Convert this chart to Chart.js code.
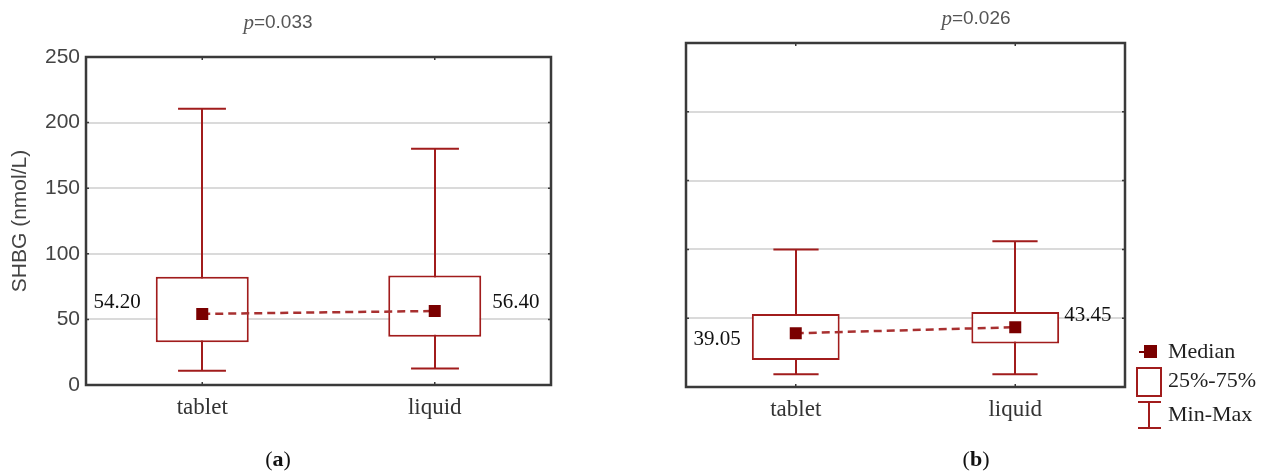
<!DOCTYPE html>
<html>
<head>
<meta charset="utf-8">
<script src="https://cdn.jsdelivr.net/npm/chart.js@4.4.0/dist/chart.umd.min.js"></script>
<style>
body { margin: 0; background: #fff; width: 1271px; height: 473px; position: relative; overflow: hidden; }
#wrapA { position: absolute; left: 0; top: 0; width: 556px; height: 473px; }
#wrapB { position: absolute; left: 681px; top: 0; width: 590px; height: 473px; }
.cap { position: absolute; top: 446px; font: 22px "Liberation Serif", serif; color: #111; transform: translateX(-50%); line-height: 26px; }
</style>
</head>
<body>
<div id="wrapA"><canvas id="chartA"></canvas></div>
<div id="wrapB"><canvas id="chartB"></canvas></div>
<div class="cap" style="left:278px">(<b>a</b>)</div>
<div class="cap" style="left:976px">(<b>b</b>)</div>
<script>
const categories = ['tablet', 'liquid'];
const yTicks = [0, 50, 100, 150, 200, 250];

// panel (a)
const aMin = [10.8, 12.5];
const aQ1 = [32.5, 36.8];
const aMedian = [54.20, 56.40];
const aQ3 = [82.5, 83.5];
const aMax = [210.5, 180];
const aP = '0.033';

// panel (b)
const bMin = [9.2, 9.2];
const bQ1 = [19.6, 31.7];
const bMedian = [39.05, 43.45];
const bQ3 = [53, 54.5];
const bMax = [100, 106];
const bP = '0.026';

const legendItems = ['Median', '25%-75%', 'Min-Max'];

const BOX_RED = '#a11c1c';
const MED_RED = '#7a0000';
const FRAME = '#3a3a3a';

function whiskers(mins, maxs) {
    return {
        id: 'whiskers',
        beforeDatasetsDraw(chart) {
            const { ctx, scales: { x, y } } = chart;
            const half = x.width / categories.length * 0.103;
            ctx.save();
            ctx.strokeStyle = BOX_RED;
            ctx.lineWidth = 2;
            mins.forEach((v, i) => {
                const px = Math.round(x.getPixelForValue(i));
                const yMin = y.getPixelForValue(v);
                const yMax = y.getPixelForValue(maxs[i]);
                ctx.beginPath();
                ctx.moveTo(px, yMin); ctx.lineTo(px, yMax);
                ctx.moveTo(px - half, yMin); ctx.lineTo(px + half, yMin);
                ctx.moveTo(px - half, yMax); ctx.lineTo(px + half, yMax);
                ctx.stroke();
            });
            ctx.restore();
        }
    };
}

function medianLabels(medians, sides, gaps, dys) {
    return {
        id: 'medianLabels',
        afterDatasetsDraw(chart) {
            const { ctx, scales: { y } } = chart;
            const bars = chart.getDatasetMeta(0).data;
            ctx.save();
            ctx.font = '21px "Liberation Serif", serif';
            ctx.fillStyle = '#111';
            ctx.textBaseline = 'middle';
            medians.forEach((m, i) => {
                const el = bars[i];
                const yy = y.getPixelForValue(m) + dys[i];
                if (sides[i] === 'left') {
                    ctx.textAlign = 'right';
                    ctx.fillText(m.toFixed(2), el.x - el.width / 2 - gaps[i], yy);
                } else {
                    ctx.textAlign = 'left';
                    ctx.fillText(m.toFixed(2), el.x + el.width / 2 + gaps[i], yy);
                }
            });
            ctx.restore();
        }
    };
}

function frameAndTitle(pText, titleY) {
    return {
        id: 'frameTitle',
        afterDraw(chart) {
            const { ctx, chartArea: a, scales: { x, y } } = chart;
            ctx.save();
            ctx.strokeStyle = FRAME;
            ctx.lineWidth = 2.5;
            ctx.strokeRect(a.left, a.top, a.right - a.left, a.bottom - a.top);
            ctx.lineWidth = 1.5;
            ctx.beginPath();
            categories.forEach((c, i) => {
                const px = x.getPixelForValue(i);
                ctx.moveTo(px, a.bottom); ctx.lineTo(px, a.bottom - 3);
                ctx.moveTo(px, a.top); ctx.lineTo(px, a.top + 3);
            });
            yTicks.forEach(v => {
                const py = y.getPixelForValue(v);
                ctx.moveTo(a.left, py); ctx.lineTo(a.left + 3, py);
                ctx.moveTo(a.right, py); ctx.lineTo(a.right - 3, py);
            });
            ctx.stroke();

            // title: italic p + "=value"
            const pFont = 'italic 21px "Liberation Serif", serif';
            const restFont = '19px "Liberation Sans", sans-serif';
            const rest = '=' + pText;
            ctx.font = pFont;
            const w1 = ctx.measureText('p').width;
            ctx.font = restFont;
            const w2 = ctx.measureText(rest).width;
            const x0 = chart.width / 2 - (w1 + w2) / 2;
            ctx.fillStyle = '#555';
            ctx.textBaseline = 'middle';
            ctx.textAlign = 'left';
            ctx.font = pFont;
            ctx.fillText('p', x0, titleY);
            ctx.font = restFont;
            ctx.fillText(rest, x0 + w1, titleY);
            ctx.restore();
        }
    };
}

const legendPlugin = {
    id: 'boxLegend',
    afterDraw(chart) {
        const { ctx, chartArea: a } = chart;
        const cx = a.right + 24;
        const rows = [a.bottom - 35, a.bottom - 6, a.bottom + 28];
        ctx.save();
        // median marker
        ctx.strokeStyle = MED_RED;
        ctx.lineWidth = 2;
        ctx.beginPath(); ctx.moveTo(cx - 10, rows[0]); ctx.lineTo(cx - 4, rows[0]); ctx.stroke();
        ctx.fillStyle = MED_RED;
        ctx.fillRect(cx - 5, rows[0] - 7, 13, 13);
        // box
        ctx.strokeStyle = BOX_RED;
        ctx.strokeRect(cx - 12, rows[1] - 13, 24, 28);
        // whisker
        ctx.beginPath();
        ctx.moveTo(cx, rows[2] - 13); ctx.lineTo(cx, rows[2] + 13);
        ctx.moveTo(cx - 11, rows[2] - 13); ctx.lineTo(cx + 12, rows[2] - 13);
        ctx.moveTo(cx - 11, rows[2] + 13); ctx.lineTo(cx + 12, rows[2] + 13);
        ctx.stroke();
        ctx.fillStyle = '#222';
        ctx.font = '22px "Liberation Serif", serif';
        ctx.textBaseline = 'middle';
        ctx.textAlign = 'left';
        legendItems.forEach((t, i) => ctx.fillText(t, a.right + 43, rows[i]));
        ctx.restore();
    }
};

function makeChart(id, q1, med, q3, opts) {
    return new Chart(document.getElementById(id), {
        data: {
            labels: categories,
            datasets: [{
                type: 'bar',
                data: categories.map((c, i) => [q1[i], q3[i]]),
                backgroundColor: '#fff',
                borderColor: BOX_RED,
                borderWidth: 2,
                borderSkipped: false,
                barPercentage: 0.4,
                categoryPercentage: 1,
                order: 2
            }, {
                type: 'line',
                data: med,
                borderColor: '#a83030',
                borderWidth: 2.5,
                borderDash: [8, 5],
                pointStyle: 'rect',
                pointRadius: 8.5,
                pointBorderWidth: 0,
                pointBackgroundColor: MED_RED,
                order: 1
            }]
        },
        options: {
            responsive: true,
            maintainAspectRatio: false,
            animation: false,
            layout: { padding: opts.padding, autoPadding: false },
            plugins: { legend: { display: false }, tooltip: { enabled: false } },
            scales: {
                x: {
                    grid: { display: false, drawTicks: false },
                    border: { display: false },
                    ticks: { font: { family: 'Liberation Serif', size: 23 }, color: '#333', padding: 9 },
                    afterFit: s => { s.height = opts.xHeight; }
                },
                y: {
                    min: 0,
                    max: 250,
                    afterBuildTicks: s => { s.ticks = yTicks.map(v => ({ value: v })); },
                    grid: {
                        drawTicks: false,
                        lineWidth: 2,
                        color: c => (c.tick && (c.tick.value === 0 || c.tick.value === 250)) ? 'rgba(0,0,0,0)' : '#dadada'
                    },
                    border: { display: false },
                    ticks: {
                        display: opts.showY,
                        font: { family: 'Liberation Sans', size: 21 },
                        color: '#444',
                        padding: 6
                    },
                    title: {
                        display: opts.showY,
                        text: 'SHBG (nmol/L)',
                        font: { family: 'Liberation Sans', size: 21 },
                        color: '#444',
                        padding: { top: 8, bottom: 0 }
                    },
                    afterFit: s => { s.width = opts.yWidth; }
                }
            }
        },
        plugins: opts.plugins
    });
}

makeChart('chartA', aQ1, aMedian, aQ3, {
    padding: { top: 57, right: 5, bottom: 0, left: 0 },
    xHeight: 88,
    yWidth: 86,
    showY: true,
    plugins: [whiskers(aMin, aMax), medianLabels(aMedian, ['left', 'right'], [15, 11], [-11, -9]), frameAndTitle(aP, 23)]
});

makeChart('chartB', bQ1, bMedian, bQ3, {
    padding: { top: 43, right: 146, bottom: 0, left: 0 },
    xHeight: 86,
    yWidth: 5,
    showY: false,
    plugins: [whiskers(bMin, bMax), medianLabels(bMedian, ['left', 'right'], [11, 5], [6, -12]), frameAndTitle(bP, 19), legendPlugin]
});
</script>
</body>
</html>
